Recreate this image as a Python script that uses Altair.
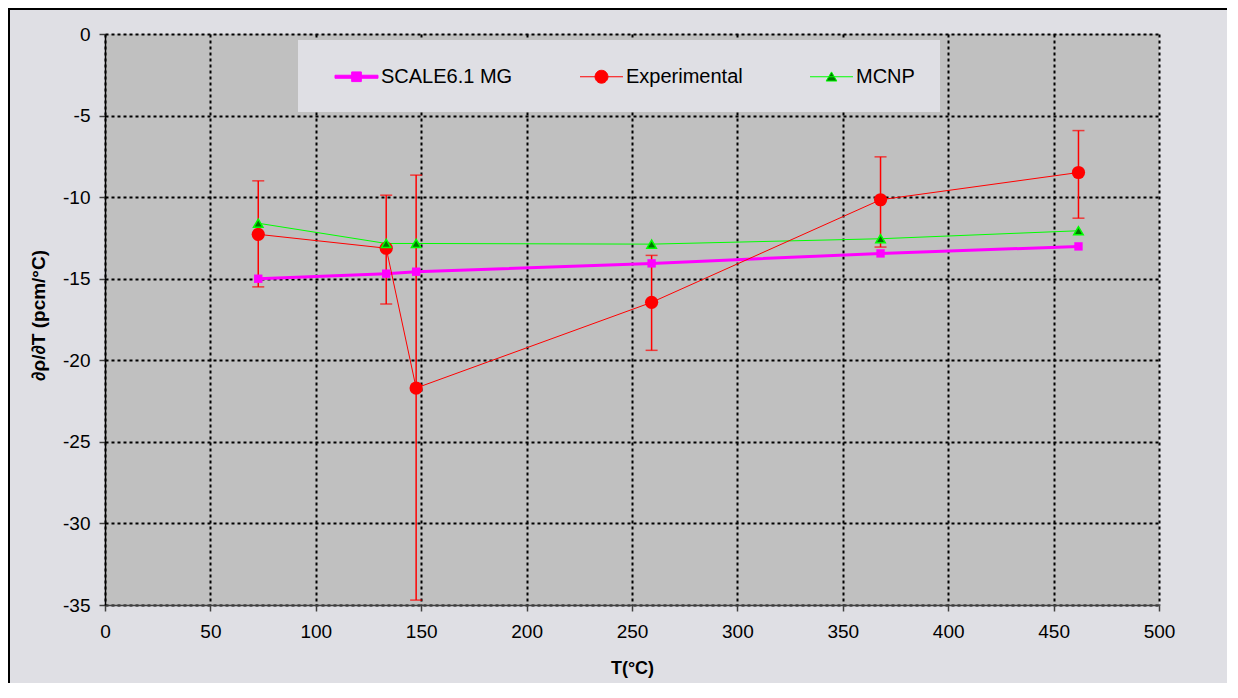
import altair as alt
import pandas as pd

# ---- data ----
T_C = [72.7, 133.4, 147.6, 259.3, 367.9, 461.8]
scale61 = [-15.0, -14.69, -14.57, -14.06, -13.45, -13.02]
experimental = [-12.28, -13.13, -21.7, -16.45, -10.16, -8.49]
exp_upper = [-9.0, -9.88, -8.65, -13.57, -7.53, -5.92]
exp_lower = [-15.5, -16.55, -34.7, -19.39, -13.06, -11.29]
mcnp = [-11.6, -12.84, -12.84, -12.88, -12.55, -12.06]

series_names = ["SCALE6.1 MG", "Experimental", "MCNP"]
x_ticks = list(range(0, 501, 50))
y_ticks = list(range(-35, 1, 5))

df = pd.DataFrame({
    "T": T_C, "scale": scale61, "exp": experimental,
    "hi": exp_upper, "lo": exp_lower, "mcnp": mcnp,
})
legend_df = pd.DataFrame({"series": series_names})

FONT = "Liberation Sans"
BG = "#dfdfe4"
PLOT_BG = "#c0c0c0"
MAGENTA = "#ff00ff"
RED = "#ff0000"
GREEN = "#00ff00"
DKGREEN = "#007800"
HYPHEN = "replace(datum.label, '\u2212', '-')"

xenc = alt.X("T:Q", scale=alt.Scale(domain=[0, 500], nice=False),
             axis=alt.Axis(values=x_ticks, title="T(°C)", domainColor="#404040",
                           tickColor="#404040", labelFlush=False))

def Y(field):
    return alt.Y(f"{field}:Q", scale=alt.Scale(domain=[-35, 0], nice=False),
                 axis=alt.Axis(values=y_ticks, title="∂ρ/∂T (pcm/°C)", labelExpr=HYPHEN,
                               domainColor="#000000", tickColor="#404040",
                               labelFlush=False, titleY=281, titleFontSize=19))

base = alt.Chart(df)

scale_line = base.mark_line(color=MAGENTA, strokeWidth=3).encode(x=xenc, y=Y("scale"))
mcnp_line = base.mark_line(color=GREEN, strokeWidth=1).encode(x=xenc, y=Y("mcnp"))
exp_line = base.mark_line(color=RED, strokeWidth=1).encode(x=xenc, y=Y("exp"))

err_rule = base.mark_rule(color=RED, strokeWidth=1.5).encode(x=xenc, y=Y("lo"), y2="hi:Q")
cap_hi = base.mark_tick(orient="horizontal", color=RED, size=12, thickness=1.5).encode(x=xenc, y=Y("hi"))
cap_lo = base.mark_tick(orient="horizontal", color=RED, size=12, thickness=1.5).encode(x=xenc, y=Y("lo"))

scale_pts = base.mark_point(shape="square", filled=True, size=70, color=MAGENTA, opacity=1).encode(x=xenc, y=Y("scale"))
exp_pts = base.mark_point(shape="circle", filled=True, size=175, color=RED, opacity=1).encode(x=xenc, y=Y("exp"))
mcnp_pts = base.mark_point(shape="triangle-up", filled=True, size=90, fill=DKGREEN,
                           stroke=GREEN, strokeWidth=1.5, opacity=1).encode(x=xenc, y=Y("mcnp"))

# legend (symbols = line + marker paths)
paths = [
    "M-2,-0.14H2V0.14H-2Z M-0.45,-0.45H0.45V0.45H-0.45Z",
    "M-2,0H2 M-0.6,0A0.6,0.6 0 1,0 0.6,0A0.6,0.6 0 1,0 -0.6,0Z",
    "M-2,0H2 M0,-0.45L0.5,0.4H-0.5Z",
]
leg = alt.Legend(orient="none", legendX=193, legendY=6, direction="horizontal", columns=3,
                 title=None, padding=25, fillColor=BG, symbolSize=462, symbolStrokeWidth=1,
                 symbolOffset=22, labelOffset=13, columnPadding=55, labelFontSize=20,
                 labelFont=FONT, labelColor="#000000", labelLimit=300)
legend_layer = alt.Chart(legend_df).transform_filter("false").mark_point(filled=True, opacity=1).encode(
    shape=alt.Shape("series:N", scale=alt.Scale(domain=series_names, range=paths), legend=leg),
    fill=alt.Fill("series:N", scale=alt.Scale(domain=series_names, range=[MAGENTA, RED, DKGREEN]), legend=leg),
    stroke=alt.Stroke("series:N", scale=alt.Scale(domain=series_names, range=[MAGENTA, RED, GREEN]), legend=leg),
)

# outer frame (top and left edges)
frame_top = alt.Chart(legend_df).mark_rule(color="#000000", strokeWidth=2).encode(
    x=alt.value(-97), x2=alt.value(1125), y=alt.value(-25))
frame_left = alt.Chart(legend_df).mark_rule(color="#000000", strokeWidth=2).encode(
    x=alt.value(-96), y=alt.value(-26), y2=alt.value(650))

chart = alt.layer(
    scale_line, mcnp_line, exp_line, err_rule, cap_hi, cap_lo,
    scale_pts, exp_pts, mcnp_pts, legend_layer, frame_top, frame_left,
).properties(
    width=1054, height=571,
    autosize=alt.AutoSizeParams(type="none"),
    padding={"left": 97, "top": 26, "right": 68, "bottom": 78},
    background=BG,
    view=alt.ViewBackground(fill=PLOT_BG, strokeWidth=0),
).configure(font=FONT).configure_view(
    fill=PLOT_BG, strokeWidth=0
).configure_axis(
    grid=True, gridColor="#000000", gridDash=[3, 3], gridWidth=2, gridOpacity=1,
    labelFont=FONT, labelFontSize=19, labelColor="#000000", labelPadding=9,
    tickSize=6, tickWidth=1.5, domainWidth=1.5,
    titleFont=FONT, titleFontSize=18, titleFontWeight="bold", titleColor="#000000",
).configure_axisX(titlePadding=18, labelPadding=11).configure_axisY(titlePadding=14)

chart.save("out.html", embed_options={"renderer": "svg", "actions": False})
